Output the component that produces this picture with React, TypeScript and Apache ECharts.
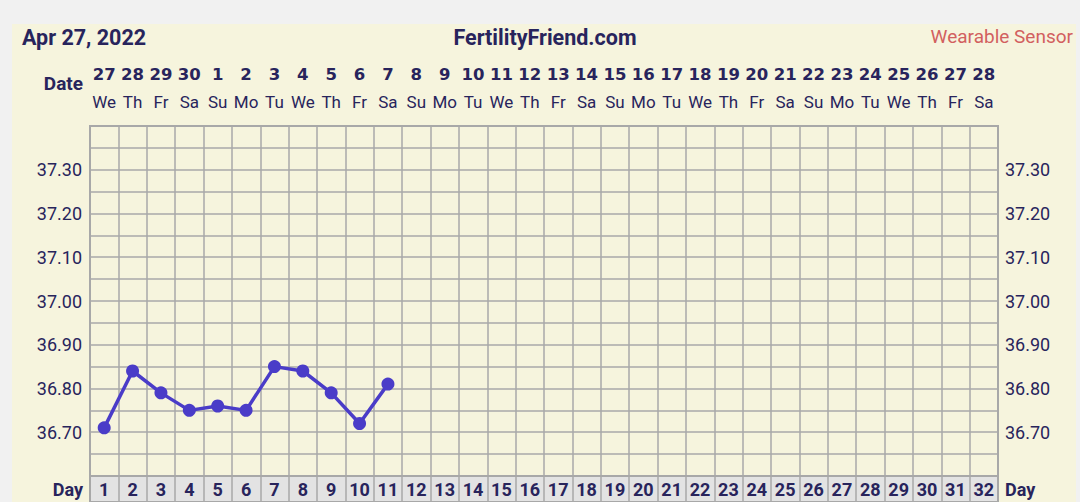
import React, { useEffect, useRef } from 'react';
import * as echarts from 'echarts';

const cycleDays = ['1','2','3','4','5','6','7','8','9','10','11','12','13','14','15','16','17','18','19','20','21','22','23','24','25','26','27','28','29','30','31','32'];
const dateNumbers = ['27','28','29','30','1','2','3','4','5','6','7','8','9','10','11','12','13','14','15','16','17','18','19','20','21','22','23','24','25','26','27','28'];
const weekdays = ['We','Th','Fr','Sa','Su','Mo','Tu','We','Th','Fr','Sa','Su','Mo','Tu','We','Th','Fr','Sa','Su','Mo','Tu','We','Th','Fr','Sa','Su','Mo','Tu','We','Th','Fr','Sa'];
const temperatures = [36.71, 36.84, 36.79, 36.75, 36.76, 36.75, 36.85, 36.84, 36.79, 36.72, 36.81];
const rowLabel = ['Day'];

const headerDate = 'Apr 27, 2022';
const headerSite = 'FertilityFriend.com';
const headerSource = 'Wearable Sensor';
const dateLabel = 'Date';

const yMin = 36.6;
const yMax = 37.4;
const yStep = 0.05;

const NAVY = '#28245c';
const GRIDLINE = '#a8a8a8';
const LINE = '#4a3cc8';
const FONT = 'Roboto';

const tempLabel = (v: number) => {
  const r = Math.round(v * 100);
  if (r % 10 !== 0 || r <= 3660 || r >= 3740) return '';
  return (r / 100).toFixed(2);
};

export default function App() {
  const ref = useRef<HTMLDivElement>(null);
  useEffect(() => {
    const chart = echarts.init(ref.current!, null, { renderer: 'svg' });
    const plot = { left: 90, right: 82, top: 126, bottom: 26 };
    chart.setOption({
      animation: false,
      backgroundColor: '#f6f4dd',
      textStyle: { fontFamily: FONT },
      graphic: [
        { type: 'rect', shape: { x: 0, y: 0, width: 1080, height: 24 }, style: { fill: '#f1f1f1' } },
        { type: 'rect', shape: { x: 0, y: 0, width: 12, height: 502 }, style: { fill: '#f1f1f1' } },
        { type: 'rect', shape: { x: 1076, y: 0, width: 4, height: 502 }, style: { fill: '#f1f1f1' } },
      ],
      title: [
        { text: headerDate, left: 17, top: 21, textStyle: { fontFamily: FONT, fontWeight: 'bold', fontSize: 21.5, color: NAVY } },
        { text: headerSite, left: 540, textAlign: 'center', top: 21, textStyle: { fontFamily: FONT, fontWeight: 'bold', fontSize: 21.5, color: NAVY } },
        { text: headerSource, right: 2, top: 22, textStyle: { fontFamily: FONT, fontWeight: 'normal', fontSize: 19, color: '#d2605f' } },
        { text: dateLabel, right: 992, top: 69, textStyle: { fontFamily: FONT, fontWeight: 'bold', fontSize: 19, color: NAVY } },
      ],
      grid: [
        { ...plot, show: true, borderColor: GRIDLINE, borderWidth: 2, backgroundColor: 'transparent' },
        { left: 90, right: 82, top: 476, height: 30, show: true, borderColor: GRIDLINE, borderWidth: 2, backgroundColor: '#e3e3e3' },
      ],
      xAxis: [
        {
          type: 'category', gridIndex: 0, data: cycleDays, boundaryGap: true, position: 'bottom',
          axisLine: { show: false }, axisTick: { show: false }, axisLabel: { show: false },
          splitLine: { show: true, interval: 0, lineStyle: { color: GRIDLINE, width: 1.5 } },
        },
        {
          type: 'category', gridIndex: 0, data: dateNumbers, boundaryGap: true, position: 'top',
          axisLine: { show: false }, axisTick: { show: false }, splitLine: { show: false },
          axisLabel: { interval: 0, margin: 43, fontFamily: 'DejaVu Sans', fontWeight: 'bold', fontSize: 16.5, color: NAVY },
        },
        {
          type: 'category', gridIndex: 0, data: weekdays, boundaryGap: true, position: 'top',
          axisLine: { show: false }, axisTick: { show: false }, splitLine: { show: false },
          axisLabel: { interval: 0, margin: 16, fontFamily: FONT, fontSize: 17, color: NAVY },
        },
        {
          type: 'category', gridIndex: 1, data: cycleDays, boundaryGap: true, position: 'top',
          axisLine: { show: false }, axisTick: { show: false },
          splitLine: { show: true, interval: 0, lineStyle: { color: GRIDLINE, width: 1.5 } },
          axisLabel: { inside: true, interval: 0, margin: 4, fontFamily: FONT, fontWeight: 'bold', fontSize: 18, color: NAVY },
        },
      ],
      yAxis: [
        {
          type: 'value', gridIndex: 0, position: 'left', min: yMin, max: yMax, interval: yStep,
          axisLine: { show: false }, axisTick: { show: false },
          splitLine: { show: true, lineStyle: { color: GRIDLINE, width: 1.5 } },
          axisLabel: { formatter: tempLabel, margin: 8, fontFamily: FONT, fontSize: 18, color: NAVY },
        },
        {
          type: 'value', gridIndex: 0, position: 'right', min: yMin, max: yMax, interval: yStep,
          axisLine: { show: false }, axisTick: { show: false }, splitLine: { show: false },
          axisLabel: { formatter: tempLabel, margin: 7, fontFamily: FONT, fontSize: 18, color: NAVY },
        },
        {
          type: 'category', gridIndex: 1, position: 'left', data: rowLabel,
          axisLine: { show: false }, axisTick: { show: false }, splitLine: { show: false },
          axisLabel: { margin: 7, fontFamily: FONT, fontWeight: 'bold', fontSize: 18, color: NAVY },
        },
        {
          type: 'category', gridIndex: 1, position: 'right', data: rowLabel,
          axisLine: { show: false }, axisTick: { show: false }, splitLine: { show: false },
          axisLabel: { margin: 7, fontFamily: FONT, fontWeight: 'bold', fontSize: 18, color: NAVY },
        },
      ],
      series: [
        {
          type: 'line', xAxisIndex: 0, yAxisIndex: 0, data: temperatures,
          symbol: 'circle', symbolSize: 13,
          lineStyle: { color: LINE, width: 3.5 },
          itemStyle: { color: LINE },
          z: 5,
        },
      ],
    });
    return () => chart.dispose();
  }, []);
  return <div ref={ref} style={{ position: 'fixed', left: 0, top: 0, width: 1080, height: 502 }} />;
}
